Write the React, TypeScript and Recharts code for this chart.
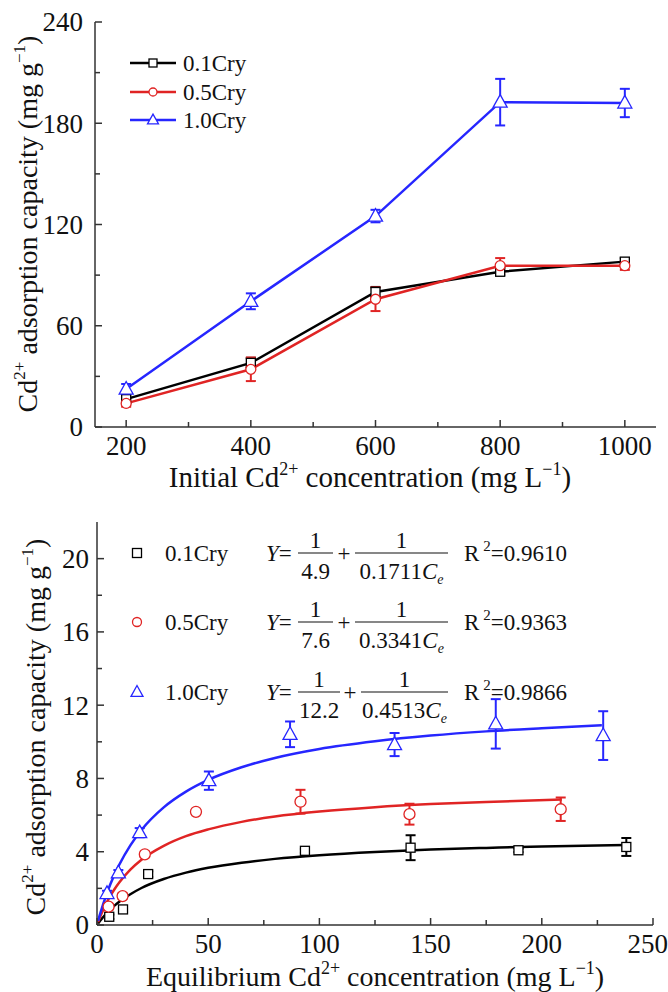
import React from 'react';
import { ComposedChart, Line, Scatter, XAxis, YAxis, ErrorBar, Legend } from 'recharts';

const FONT = '"Liberation Serif", "Times New Roman", serif';
const BLACK = '#000000';
const RED = '#e02424';
const BLUE = '#2626ff';
const AXIS = '#333333';
const TEXT = '#111111';

// ---------- Panel a ----------
const initialConc = [200, 400, 600, 800, 1000];
const cry01A = [16.5, 38, 80, 92, 98];
const cry01AErr = [2, 3, 3, 2, 2];
const cry05A = [14, 34.2, 75.7, 95.6, 95.6];
const cry05AErr = [2, 7, 7, 4.5, 2.5];
const cry10A = [22.5, 74.5, 125, 192.5, 192];
const cry10AErr = [3, 4.7, 3.7, 13.8, 8.4];
const xTicksA = [200, 300, 400, 500, 600, 700, 800, 900, 1000];
const xMajorA = [200, 400, 600, 800, 1000];
const yTicksA = [0, 30, 60, 90, 120, 150, 180, 210, 240];
const yMajorA = [0, 60, 120, 180, 240];
const seriesNames = ['0.1Cry', '0.5Cry', '1.0Cry'];

// ---------- Panel b ----------
const cry01Ce = [5.5, 11.7, 23, 93.5, 141, 189.5, 238];
const cry01Q = [0.45, 0.85, 2.78, 4.05, 4.22, 4.08, 4.26];
const cry01Err = [0.12, 0.12, 0.15, 0.1, 0.68, 0.1, 0.49];
const cry05Ce = [5.2, 11.5, 21.5, 44.5, 91.5, 140.5, 208.5];
const cry05Q = [1.0, 1.58, 3.86, 6.18, 6.73, 6.05, 6.32];
const cry05Err = [0.15, 0.15, 0.15, 0.12, 0.65, 0.57, 0.64];
const cry10Ce = [4.5, 9.6, 19.2, 50.3, 86.8, 133.8, 179.3, 227.6];
const cry10Q = [1.72, 2.85, 5.04, 7.88, 10.41, 9.85, 10.98, 10.34];
const cry10Err = [0.15, 0.15, 0.25, 0.5, 0.7, 0.63, 1.35, 1.33];

const fit01Ce = [0.5, 1, 2, 4, 6, 8, 10, 15, 20, 30, 40, 50, 65, 80, 100, 125, 150, 175, 200, 238];
const fit01Q = [0.08, 0.165, 0.32, 0.6, 0.85, 1.07, 1.27, 1.68, 2.02, 2.51, 2.86, 3.12, 3.4, 3.61, 3.81, 3.99, 4.12, 4.21, 4.29, 4.37];
const fit05Ce = [0.5, 1, 2, 4, 6, 8, 10, 15, 20, 30, 40, 50, 65, 80, 100, 125, 150, 175, 209];
const fit05Q = [0.16, 0.32, 0.61, 1.14, 1.59, 1.98, 2.32, 3.02, 3.56, 4.32, 4.85, 5.22, 5.63, 5.92, 6.19, 6.43, 6.6, 6.72, 6.85];
const fit10Ce = [0.5, 1, 2, 4, 6, 8, 10, 15, 20, 30, 40, 50, 65, 80, 100, 125, 150, 175, 200, 227];
const fit10Q = [0.22, 0.44, 0.84, 1.57, 2.22, 2.79, 3.29, 4.35, 5.19, 6.42, 7.28, 7.92, 8.61, 9.12, 9.61, 10.03, 10.34, 10.57, 10.74, 10.9];

const xTicksB = [0, 25, 50, 75, 100, 125, 150, 175, 200, 225, 250];
const xMajorB = [0, 50, 100, 150, 200, 250];
const yTicksB = [0, 2, 4, 6, 8, 10, 12, 14, 16, 18, 20];
const yMajorB = [0, 4, 8, 12, 16, 20];

const eqMax = ['4.9', '7.6', '12.2'];
const eqK = ['0.1711', '0.3341', '0.4513'];
const eqR2 = ['0.9610', '0.9363', '0.9866'];

// ---------- tables ----------
const tableA = initialConc.map((x, i) => ({
  x,
  c01: cry01A[i], c01e: cry01AErr[i],
  c05: cry05A[i], c05e: cry05AErr[i],
  c10: cry10A[i], c10e: cry10AErr[i],
}));
const pts = (xs: number[], ys: number[], es?: number[]) =>
  xs.map((x, i) => (es ? { x, y: ys[i], err: es[i] } : { x, y: ys[i] }));

// ---------- helpers ----------
function Marker({ cx, cy, shape, color, size }: any) {
  if (cx == null || cy == null || isNaN(cx) || isNaN(cy)) return null;
  const s = size;
  if (shape === 'square')
    return <rect x={cx - s / 2} y={cy - s / 2} width={s} height={s} fill="#fff" stroke={color} strokeWidth={1.3} />;
  if (shape === 'circle')
    return <circle cx={cx} cy={cy} r={s / 2} fill="#fff" stroke={color} strokeWidth={1.3} />;
  const h = s * 0.9;
  return (
    <polygon
      points={`${cx},${cy - h * 0.6} ${cx - s / 2},${cy + h * 0.4} ${cx + s / 2},${cy + h * 0.4}`}
      fill="#fff"
      stroke={color}
      strokeWidth={1.3}
    />
  );
}

function BottomTick(props: any) {
  const { x, y, payload, majors, fontSize, dy, lastShift } = props;
  const major = majors.includes(payload.value);
  const isLast = payload.value === majors[majors.length - 1];
  return (
    <g>
      <line x1={x} x2={x} y1={y} y2={y - (major ? 7 : 5)} stroke={AXIS} strokeWidth={1.5} />
      {major && (
        <text
          x={isLast && lastShift ? x + lastShift : x}
          y={y + dy}
          textAnchor={isLast && lastShift ? 'end' : 'middle'}
          fontFamily={FONT}
          fontSize={fontSize}
          fill={TEXT}
        >
          {payload.value}
        </text>
      )}
    </g>
  );
}

function LeftTick(props: any) {
  const { x, y, payload, majors, fontSize, gap } = props;
  const major = majors.includes(payload.value);
  return (
    <g>
      <line x1={x} x2={x + (major ? 7 : 5)} y1={y} y2={y} stroke={AXIS} strokeWidth={1.5} />
      {major && (
        <text x={x - gap} y={y} dy="0.35em" textAnchor="end" fontFamily={FONT} fontSize={fontSize} fill={TEXT}>
          {payload.value}
        </text>
      )}
    </g>
  );
}

function YTitle({ x, y }: { x: number; y: number }) {
  return (
    <text transform={`translate(${x},${y}) rotate(-90)`} textAnchor="middle" fontFamily={FONT} fontSize={28} fill={TEXT}>
      <tspan>Cd</tspan>
      <tspan fontSize={17} dy={-12}>2+</tspan>
      <tspan dy={12}> adsorption capacity (mg g</tspan>
      <tspan fontSize={17} dy={-12}>{'\u22121'}</tspan>
      <tspan dy={12}>)</tspan>
    </text>
  );
}

function XTitle({ x, y, lead, size }: { x: number; y: number; lead: string; size: number }) {
  return (
    <text x={x} y={y} textAnchor="middle" fontFamily={FONT} fontSize={size} fill={TEXT}>
      <tspan>{lead} Cd</tspan>
      <tspan fontSize={18} dy={-12}>2+</tspan>
      <tspan dy={12}> concentration (mg L</tspan>
      <tspan fontSize={18} dy={-12}>{'\u22121'}</tspan>
      <tspan dy={12}>)</tspan>
    </text>
  );
}

function PanelLetter({ x, y, letter }: { x: number; y: number; letter: string }) {
  return (
    <text x={x} y={y} textAnchor="middle" fontFamily={FONT} fontWeight="bold" fontSize={32} fill="#000">
      {letter}
    </text>
  );
}

const colors = [BLACK, RED, BLUE];
const shapes = ['square', 'circle', 'triangle'];

function LegendA() {
  const rows = [23, 52, 80];
  return (
    <svg width={200} height={100} style={{ overflow: 'visible' }}>
      {rows.map((ry, i) => (
        <g key={i}>
          <line x1={10} x2={56} y1={ry} y2={ry} stroke={colors[i]} strokeWidth={2.5} />
          <Marker cx={33} cy={ry} shape={shapes[i]} color={colors[i]} size={i === 2 ? 11 : 8} />
          <text x={63} y={ry} dy="0.35em" fontFamily={FONT} fontSize={23} fill={TEXT}>
            {seriesNames[i]}
          </text>
        </g>
      ))}
    </svg>
  );
}

function LegendB() {
  const rows = [38, 107, 177];
  return (
    <svg width={470} height={210} style={{ overflow: 'visible' }}>
      {rows.map((ry, i) => {
        const f1a = 178;
        const f1b = i === 2 ? 220 : 213;
        const plus = i === 2 ? 230 : 224;
        const f2a = i === 2 ? 241 : 235;
        const f2b = 328;
        return (
          <g key={i} fontFamily={FONT} fontSize={23} fill={TEXT}>
            <Marker cx={17} cy={ry} shape={shapes[i]} color={colors[i]} size={i === 2 ? 12 : 9} />
            <text x={45} y={ry} dy="0.35em">{seriesNames[i]}</text>
            <text x={146} y={ry} dy="0.35em">
              <tspan fontStyle="italic">Y</tspan>
              <tspan>=</tspan>
            </text>
            <line x1={f1a} x2={f1b} y1={ry} y2={ry} stroke={TEXT} strokeWidth={1.2} />
            <text x={(f1a + f1b) / 2} y={ry - 13} dy="0.35em" textAnchor="middle">1</text>
            <text x={(f1a + f1b) / 2} y={ry + 18} dy="0.35em" textAnchor="middle">{eqMax[i]}</text>
            <text x={plus} y={ry} dy="0.35em" textAnchor="middle">+</text>
            <line x1={f2a} x2={f2b} y1={ry} y2={ry} stroke={TEXT} strokeWidth={1.2} />
            <text x={(f2a + f2b) / 2} y={ry - 13} dy="0.35em" textAnchor="middle">1</text>
            <text x={(f2a + f2b) / 2} y={ry + 18} dy="0.35em" textAnchor="middle">
              <tspan>{eqK[i]}</tspan>
              <tspan fontStyle="italic">C</tspan>
              <tspan fontStyle="italic" fontSize={14} dy={5}>e</tspan>
            </text>
            <text x={344} y={ry} dy="0.35em">
              <tspan>R</tspan>
              <tspan fontSize={15} dx={4} dy={-10}>2</tspan>
              <tspan dy={10}>={eqR2[i]}</tspan>
            </text>
          </g>
        );
      })}
    </svg>
  );
}

const axisLine = { stroke: AXIS, strokeWidth: 1.5 };

export default function App() {
  return (
    <div style={{ position: 'absolute', left: 0, top: 0, width: 668, height: 992, background: '#fff', overflow: 'hidden' }}>
      {/* Panel a */}
      <ComposedChart width={668} height={495} data={tableA} margin={{ top: 22, right: 12, bottom: 0, left: 0 }}>
        <XAxis
          dataKey="x"
          type="number"
          domain={[150, 1050]}
          ticks={xTicksA}
          interval={0}
          height={68}
          tickSize={0}
          tickMargin={0}
          tickLine={false}
          axisLine={axisLine}
          tick={(p: any) => <BottomTick {...p} majors={xMajorA} fontSize={27} dy={28} />}
          label={() => <XTitle x={370} y={487} lead="Initial" size={29} />}
        />
        <YAxis
          type="number"
          domain={[0, 240]}
          ticks={yTicksA}
          interval={0}
          width={95}
          tickSize={0}
          tickMargin={0}
          tickLine={false}
          axisLine={axisLine}
          tick={(p: any) => <LeftTick {...p} majors={yMajorA} fontSize={27} gap={12} />}
          label={() => <YTitle x={37} y={224} />}
        />
        <XAxis
          xAxisId="top"
          orientation="top"
          type="number"
          domain={[150, 1050]}
          height={0}
          tick={false}
          tickLine={false}
          axisLine={axisLine}
          label={() => <PanelLetter x={636} y={57} letter="a" />}
        />
        <YAxis yAxisId="right" orientation="right" type="number" domain={[0, 240]} width={0} tick={false} tickLine={false} axisLine={axisLine} />
        <Legend
          layout="horizontal"
          verticalAlign="middle"
          align="center"
          content={() => <LegendA />}
          wrapperStyle={{ left: 120, top: 40, width: 200, height: 100 }}
        />
        <Line
          dataKey="c01"
          name="0.1Cry"
          stroke={BLACK}
          strokeWidth={2.5}
          isAnimationActive={false}
          dot={(p: any) => <Marker key={`a01-${p.index}`} cx={p.cx} cy={p.cy} shape="square" color={BLACK} size={9} />}
        >
          <ErrorBar dataKey="c01e" width={5} stroke={BLACK} strokeWidth={2} />
        </Line>
        <Line
          dataKey="c05"
          name="0.5Cry"
          stroke={RED}
          strokeWidth={2.5}
          isAnimationActive={false}
          dot={(p: any) => <Marker key={`a05-${p.index}`} cx={p.cx} cy={p.cy} shape="circle" color={RED} size={10} />}
        >
          <ErrorBar dataKey="c05e" width={5} stroke={RED} strokeWidth={2} />
        </Line>
        <Line
          dataKey="c10"
          name="1.0Cry"
          stroke={BLUE}
          strokeWidth={2.5}
          isAnimationActive={false}
          dot={(p: any) => <Marker key={`a10-${p.index}`} cx={p.cx} cy={p.cy} shape="triangle" color={BLUE} size={14} />}
        >
          <ErrorBar dataKey="c10e" width={5} stroke={BLUE} strokeWidth={2} />
        </Line>
      </ComposedChart>

      {/* Panel b */}
      <ComposedChart width={668} height={497} margin={{ top: 27, right: 15, bottom: 0, left: 0 }}>
        <XAxis
          dataKey="x"
          type="number"
          domain={[0, 250]}
          ticks={xTicksB}
          interval={0}
          height={67}
          tickSize={0}
          tickMargin={0}
          tickLine={false}
          axisLine={axisLine}
          tick={(p: any) => <BottomTick {...p} majors={xMajorB} fontSize={27} dy={28} lastShift={15} />}
          label={() => <XTitle x={375} y={491} lead="Equilibrium" size={28} />}
        />
        <YAxis
          dataKey="y"
          type="number"
          domain={[0, 22]}
          ticks={yTicksB}
          interval={0}
          width={97}
          tickSize={0}
          tickMargin={0}
          tickLine={false}
          axisLine={axisLine}
          tick={(p: any) => <LeftTick {...p} majors={yMajorB} fontSize={27} gap={8} />}
          label={() => <YTitle x={45} y={232} />}
        />
        <XAxis
          xAxisId="top"
          orientation="top"
          type="number"
          domain={[0, 250]}
          height={0}
          tick={false}
          tickLine={false}
          axisLine={axisLine}
          label={() => <PanelLetter x={632} y={61} letter="b" />}
        />
        <YAxis yAxisId="right" orientation="right" type="number" domain={[0, 22]} width={0} tick={false} tickLine={false} axisLine={axisLine} />
        <Legend
          layout="horizontal"
          verticalAlign="middle"
          align="center"
          content={() => <LegendB />}
          wrapperStyle={{ left: 120, top: 20, width: 470, height: 210 }}
        />
        <Line data={pts(fit01Ce, fit01Q)} dataKey="y" type="monotone" stroke={BLACK} strokeWidth={2.5} dot={false} isAnimationActive={false} legendType="none" />
        <Line data={pts(fit05Ce, fit05Q)} dataKey="y" type="monotone" stroke={RED} strokeWidth={2.5} dot={false} isAnimationActive={false} legendType="none" />
        <Line data={pts(fit10Ce, fit10Q)} dataKey="y" type="monotone" stroke={BLUE} strokeWidth={2.5} dot={false} isAnimationActive={false} legendType="none" />
        <Scatter
          data={pts(cry01Ce, cry01Q, cry01Err)}
          name="0.1Cry"
          isAnimationActive={false}
          shape={(p: any) => <Marker cx={p.cx} cy={p.cy} shape="square" color={BLACK} size={9} />}
        >
          <ErrorBar dataKey="err" direction="y" width={5} stroke={BLACK} strokeWidth={2} />
        </Scatter>
        <Scatter
          data={pts(cry05Ce, cry05Q, cry05Err)}
          name="0.5Cry"
          isAnimationActive={false}
          shape={(p: any) => <Marker cx={p.cx} cy={p.cy} shape="circle" color={RED} size={11} />}
        >
          <ErrorBar dataKey="err" direction="y" width={5} stroke={RED} strokeWidth={2} />
        </Scatter>
        <Scatter
          data={pts(cry10Ce, cry10Q, cry10Err)}
          name="1.0Cry"
          isAnimationActive={false}
          shape={(p: any) => <Marker cx={p.cx} cy={p.cy} shape="triangle" color={BLUE} size={14} />}
        >
          <ErrorBar dataKey="err" direction="y" width={5} stroke={BLUE} strokeWidth={2} />
        </Scatter>
      </ComposedChart>
    </div>
  );
}
